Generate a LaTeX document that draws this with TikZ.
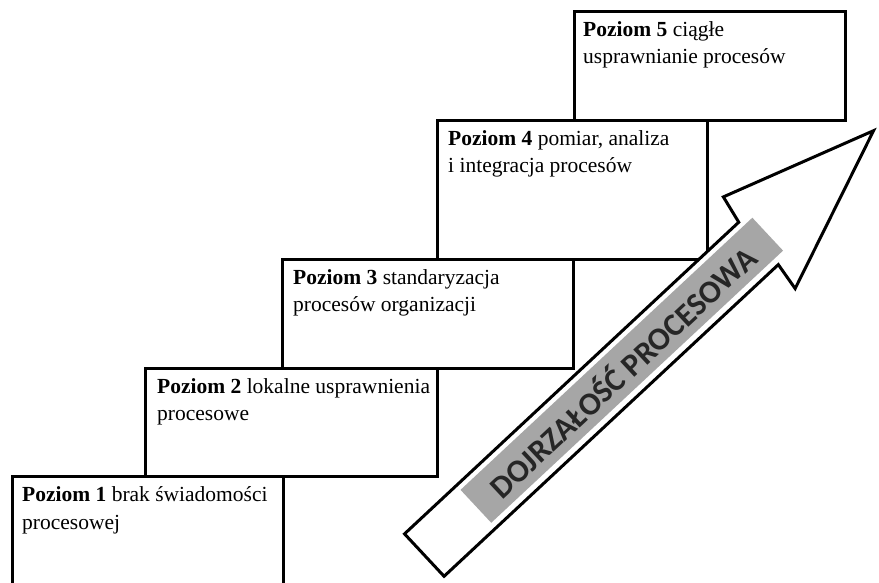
\documentclass[tikz,border=0pt]{standalone}
\usepackage{fontspec}
\setmainfont{Liberation Serif}
\newfontfamily\arrowfont{Carlito}
\usepackage{xcolor}
\definecolor{bandgray}{RGB}{166,166,166}

\tikzset{
  lvlbox/.style={draw, line width=3pt, fill=white, anchor=north west, inner sep=0pt, outer sep=0pt},
  lvltext/.style={anchor=base west, align=left, inner sep=0pt, font=\fontsize{21.5}{27.5}\selectfont},
}

\begin{document}
\begin{tikzpicture}[x=1pt, y=1pt]
\useasboundingbox (0,0) rectangle (879,583);
\clip (0,0) rectangle (879,583);
% stairs
\node[lvlbox, minimum width=271pt, minimum height=130pt] (lvl1) at (12,106) {};
\node[lvlbox, minimum width=292pt, minimum height=108pt] (lvl2) at (145,214) {};
\node[lvlbox, minimum width=291pt, minimum height=109pt] (lvl3) at (282,323) {};
\node[lvlbox, minimum width=270pt, minimum height=139pt] (lvl4) at (437,462) {};
\node[lvlbox, minimum width=271pt, minimum height=109pt] (lvl5) at (574,571) {};
% labels (base = last line)
\node[lvltext] (txt1) at ([xshift=10pt, yshift=-52.5pt]lvl1.north west) {\textbf{Poziom 1} brak świadomości\\procesowej};
\node[lvltext] (txt2) at ([xshift=12pt, yshift=-51.8pt]lvl2.north west) {\textbf{Poziom 2} lokalne usprawnienia\\procesowe};
\node[lvltext] (txt3) at ([xshift=11pt, yshift=-52pt]lvl3.north west) {\textbf{Poziom 3} standaryzacja\\procesów organizacji};
\node[lvltext] (txt4) at ([xshift=11pt, yshift=-52pt]lvl4.north west) {\textbf{Poziom 4} pomiar, analiza\\i integracja procesów};
\node[lvltext] (txt5) at ([xshift=9pt, yshift=-52pt]lvl5.north west) {\textbf{Poziom 5} ciągłe\\usprawnianie procesów};
% arrow
\begin{scope}[shift={(424.3,27.9)}, rotate=43, transform shape]
  \draw[line width=3pt, fill=white] (0,29) -- (457,29) -- (463,58) -- (618,4) -- (453,-58) -- (457,-29) -- (0,-29) -- cycle;
  \fill[bandgray] (71,-22) rectangle (470,23);
  \node[font=\arrowfont\bfseries\fontsize{32}{32}\selectfont, text=black!85] (maturity) at (270,0) {DOJRZAŁOŚĆ PROCESOWA};
\end{scope}
\end{tikzpicture}
\end{document}
